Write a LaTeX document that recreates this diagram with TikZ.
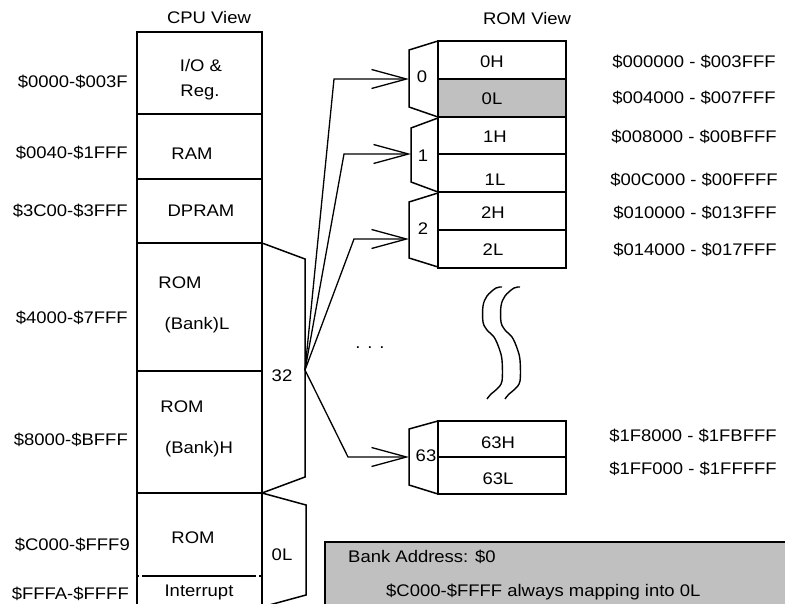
\documentclass[tikz,border=0pt]{standalone}
\usepackage{fontspec}
\setmainfont{Liberation Sans}[FakeStretch=1.1]
\usetikzlibrary{arrows.meta}
\definecolor{boxgray}{RGB}{192,192,192}
\begin{document}
\begin{tikzpicture}[x=1pt,y=-1pt,line join=miter,
  txt/.style={font=\fontsize{16.8}{19}\selectfont,inner sep=0pt},
  outline/.style={line width=1.5pt},
  sepline/.style={line width=2.2pt},
  fanline/.style={line width=1.3pt},
  arr/.style={fanline,-{Straight Barb[length=35pt,width=19pt,line width=1.3pt]}}]
\useasboundingbox (0,0) rectangle (785,604);
% gray info box
\fill[boxgray] (325,542) rectangle (790,610);
\draw[outline] (790,542) -- (325,542) -- (325,610);
% CPU column
\draw[outline] (137,610) -- (137,32) -- (262,32) -- (262,610);
\foreach \yy in {114,179,243,371,493} \draw[sepline] (137,\yy) -- (262,\yy);
\draw[line width=1.3pt,dash pattern=on 2pt off 3pt on 114pt off 3pt] (137,576) -- (262,576);
% CPU muxes
\draw[outline] (262,243) -- (305,259) -- (305,477) -- (262,493);
\draw[outline] (262,493) -- (306,505) -- (306,595) -- (262,607);
% ROM column
\fill[boxgray] (438,79) rectangle (566,117);
\draw[outline] (438,41) rectangle (566,268);
\foreach \yy in {79,117,154,192,230} \draw[outline] (438,\yy) -- (566,\yy);
\draw[outline] (438,421) rectangle (566,494);
\draw[outline] (438,457) -- (566,457);
% ROM muxes
\draw[outline] (438,41) -- (409,50) -- (409,107) -- (438,117);
\draw[outline] (438,118) -- (411,128) -- (411,182) -- (438,192);
\draw[outline] (438,193) -- (409,202) -- (409,258) -- (438,267);
\draw[outline] (438,421) -- (409,429) -- (409,485) -- (438,494);
% fan
\coordinate (fan) at (305,370);
\coordinate (k0) at (334,79);  \coordinate (m0) at (409,79);
\coordinate (k1) at (344,154); \coordinate (m1) at (411,154);
\coordinate (k2) at (354,239); \coordinate (m2) at (409,239);
\coordinate (k63) at (348,457); \coordinate (m63) at (409,457);
\draw[arr] (fan) -- (k0) -- (m0);
\draw[arr] (fan) -- (k1) -- (m1);
\draw[arr] (fan) -- (k2) -- (m2);
\draw[arr] (fan) -- (k63) -- (m63);
% break marks
\foreach \dx in {0,18}
  \draw[line width=1.4pt,xshift=\dx pt] plot[smooth,tension=0.55] coordinates
   {(502,287) (496,288) (487,296) (483,306) (483,322) (487,330) (494,337) (499,348) (502,360) (502,381) (497,389) (491,394) (487,399)};
% titles
\node[txt] (cpuview) at (209,17) {CPU View};
\node[txt] (romview) at (527,18) {ROM View};
% CPU address labels
\node[txt,anchor=east] (a1) at (128,82) {\$0000-\$003F};
\node[txt,anchor=east] (a2) at (128,153) {\$0040-\$1FFF};
\node[txt,anchor=east] (a3) at (128,211) {\$3C00-\$3FFF};
\node[txt,anchor=east] (a4) at (128,318) {\$4000-\$7FFF};
\node[txt,anchor=east] (a5) at (128,440) {\$8000-\$BFFF};
\node[txt,anchor=east] (a6) at (130,545) {\$C000-\$FFF9};
\node[txt,anchor=east] (a7) at (129,594) {\$FFFA-\$FFFF};
% CPU contents
\node[txt] (io) at (201,65) {I/O \&};
\node[txt] (reg) at (200,92) {Reg.};
\node[txt] (ram) at (192,154) {RAM};
\node[txt] (dpram) at (201,211) {DPRAM};
\node[txt] (rom1) at (180,283) {ROM};
\node[txt] (bankl) at (197,325) {(Bank)L};
\node[txt] (rom2) at (182,407) {ROM};
\node[txt] (bankh) at (199,449) {(Bank)H};
\node[txt] (rom3) at (193,538) {ROM};
\node[txt] (intr) at (199,592) {Interrupt};
\node[txt] (n32) at (282,376) {32};
\node[txt] (nol) at (282,555) {0L};
% ROM contents
\node[txt] (r0h) at (492,62) {0H};
\node[txt] (r0l) at (492,99) {0L};
\node[txt] (r1h) at (495,137) {1H};
\node[txt] (r1l) at (495,180) {1L};
\node[txt] (r2h) at (493,213) {2H};
\node[txt] (r2l) at (493,250) {2L};
\node[txt] (r63h) at (498,443) {63H};
\node[txt] (r63l) at (498,479) {63L};
\node[txt] (b0) at (422,77) {0};
\node[txt] (b1) at (423,156) {1};
\node[txt] (b2) at (423,229) {2};
\node[txt] (b63) at (426,456) {63};
\node[txt] (dots) at (370,348) {. . .};
% ROM addresses
\node[txt] (d1) at (694,62) {\$000000 - \$003FFF};
\node[txt] (d2) at (694,98) {\$004000 - \$007FFF};
\node[txt] (d3) at (694,137) {\$008000 - \$00BFFF};
\node[txt] (d4) at (694,180) {\$00C000 - \$00FFFF};
\node[txt] (d5) at (695,213) {\$010000 - \$013FFF};
\node[txt] (d6) at (695,250) {\$014000 - \$017FFF};
\node[txt] (d7) at (693,436) {\$1F8000 - \$1FBFFF};
\node[txt] (d8) at (693,469) {\$1FF000 - \$1FFFFF};
% info text
\node[txt,anchor=west] (info1) at (348,557) {Bank Address: \$0};
\node[txt,anchor=west] (info2) at (386,592) {\$C000-\$FFFF always mapping into 0L};
\end{tikzpicture}
\end{document}
